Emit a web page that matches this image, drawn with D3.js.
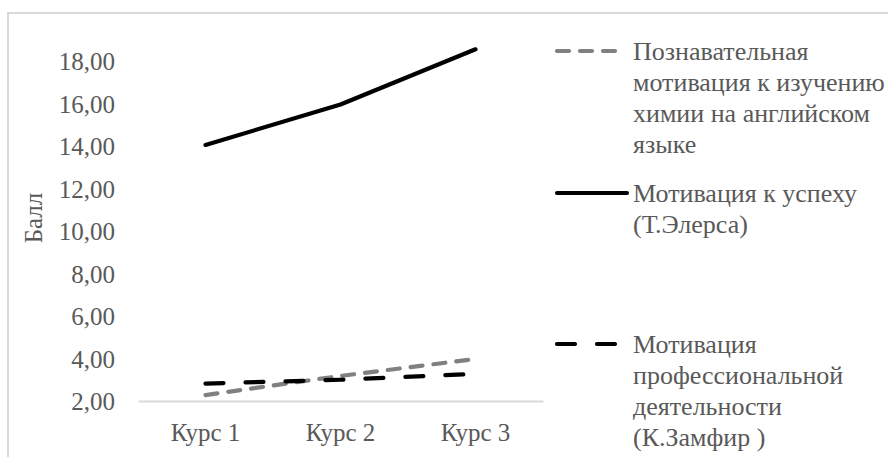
<!DOCTYPE html>
<html>
<head>
<meta charset="utf-8">
<script src="https://cdn.jsdelivr.net/npm/d3@7"></script>
<style>
  html, body { margin: 0; padding: 0; background: #fff; }
  svg { display: block; }
</style>
</head>
<body>
<svg id="chart" width="888" height="457"></svg>
<script>
const categories = ["Курс 1", "Курс 2", "Курс 3"];
const cognitive = [2.28, 3.18, 3.98];     // Познавательная мотивация ...
const success = [14.05, 15.95, 18.55];    // Мотивация к успеху (Т.Элерса)
const professional = [2.82, 3.0, 3.28];   // Мотивация профессиональной деятельности
const yTicks = [2, 4, 6, 8, 10, 12, 14, 16, 18];
const yTitle = "Балл";
const legendLabels = [
  ["Познавательная", "мотивация к изучению", "химии на английском", "языке"],
  ["Мотивация к успеху", "(Т.Элерса)"],
  ["Мотивация", "профессиональной", "деятельности", "(К.Замфир )"]
];

// choose an installed serif font
function hasFont(name) {
  const c = document.createElement("canvas").getContext("2d");
  const s = "Мотивация 18,00 Iliwmm";
  let diff = false;
  ["monospace", "sans-serif"].forEach(base => {
    c.font = "40px " + base;
    const w0 = c.measureText(s).width;
    c.font = '40px "' + name + '", ' + base;
    if (Math.abs(c.measureText(s).width - w0) > 0.5) diff = true;
  });
  return diff;
}
const candidates = ["Liberation Serif", "Times New Roman", "Tinos", "DejaVu Serif", "Noto Serif", "FreeSerif", "Nimbus Roman", "Times"];
const serifFont = candidates.find(hasFont);
const fontStack = serifFont ? '"' + serifFont + '", serif' : '"Liberation Sans", sans-serif';

const series = [
  { name: "cog", values: cognitive, color: "#808080", dash: "12,11", legendY: 51, labels: legendLabels[0] },
  { name: "suc", values: success, color: "#000000", dash: null, legendY: 193, labels: legendLabels[1] },
  { name: "pro", values: professional, color: "#000000", dash: "18,22", legendY: 344, labels: legendLabels[2] }
];

const svg = d3.select("#chart");
const fontSize = 25;
const legendFontSize = 26;

svg.append("rect")
  .attr("x", 8).attr("y", 13)
  .attr("width", 1000).attr("height", 600)
  .attr("fill", "none").attr("stroke", "#d9d9d9").attr("stroke-width", 2);

const x = d3.scaleBand().domain(categories).range([138, 543]);
const y = d3.scaleLinear().domain([2, 18]).range([401, 61]);

const yAxis = d3.axisLeft(y).tickValues(yTicks)
  .tickFormat(d => d3.format(".2f")(d).replace(".", ","))
  .tickSize(0).tickPadding(23);
const gy = svg.append("g").attr("transform", "translate(138,0)").call(yAxis);
gy.select(".domain").remove();
gy.selectAll("text").attr("dy", "0.35em");

const xAxis = d3.axisBottom(x).tickSize(0).tickPadding(22);
const gx = svg.append("g").attr("transform", "translate(0,401)").call(xAxis);
gx.select(".domain").attr("stroke", "#d9d9d9").attr("stroke-width", 2);

svg.append("text")
  .attr("transform", "translate(42,218) rotate(-90)")
  .attr("text-anchor", "middle")
  .text(yTitle);

const line = d3.line()
  .x((d, i) => x(categories[i]) + x.bandwidth() / 2)
  .y(d => y(d));

series.forEach(s => {
  svg.append("path")
    .datum(s.values)
    .attr("d", line)
    .attr("fill", "none")
    .attr("stroke", s.color)
    .attr("stroke-width", 4.2)
    .attr("stroke-linecap", "round")
    .attr("stroke-linejoin", "round")
    .attr("stroke-dasharray", s.dash);
});

svg.selectAll("text")
  .attr("font-family", fontStack)
  .style("font-family", fontStack)
  .style("font-size", fontSize + "px")
  .attr("fill", "#595959");

series.forEach(s => {
  svg.append("line")
    .attr("x1", 557).attr("x2", s.dash ? 618 : 627)
    .attr("y1", s.legendY).attr("y2", s.legendY)
    .attr("stroke", s.color)
    .attr("stroke-width", 4.2)
    .attr("stroke-linecap", "round")
    .attr("stroke-dasharray", s.dash);
  const t = svg.append("text")
    .attr("x", 633).attr("y", s.legendY + 9)
    .style("font-family", fontStack)
    .style("font-size", legendFontSize + "px")
    .attr("fill", "#595959");
  s.labels.forEach((l, i) => {
    t.append("tspan").attr("x", 633).attr("dy", i === 0 ? 0 : 31).text(l);
  });
});
</script>
</body>
</html>
